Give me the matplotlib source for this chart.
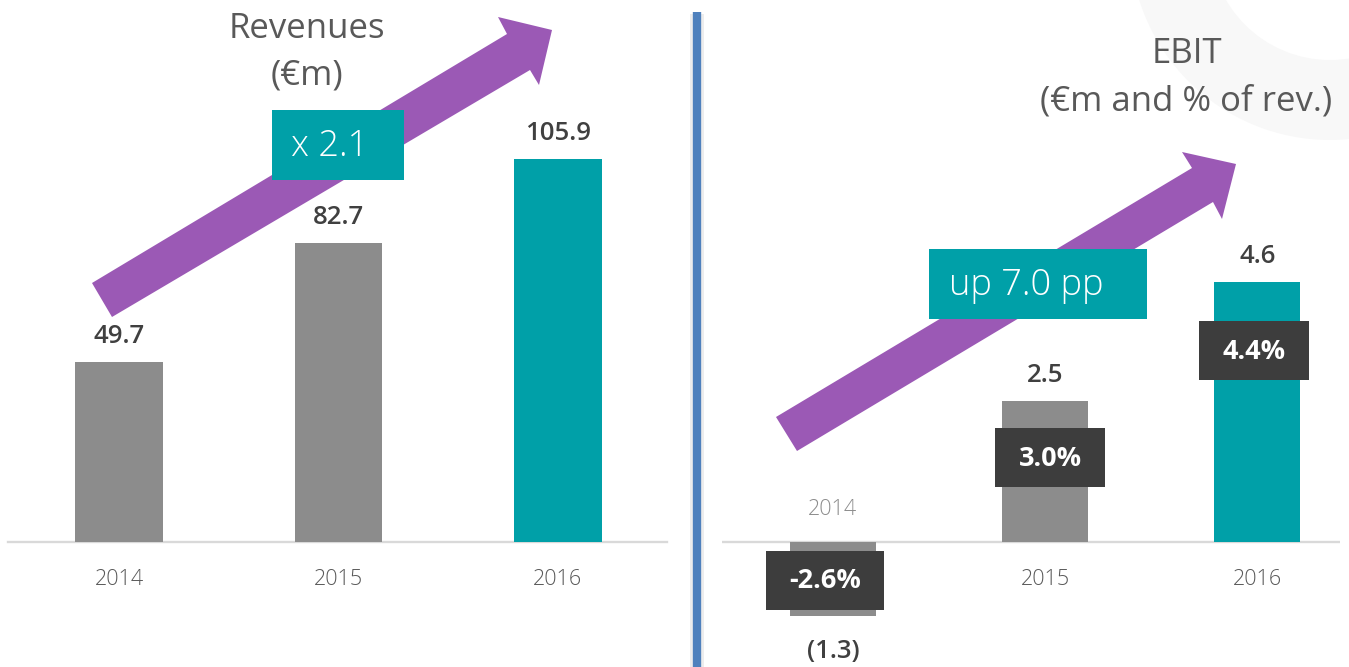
import matplotlib
matplotlib.use("Agg")
import matplotlib.pyplot as plt
from matplotlib.patches import Polygon, Rectangle, Wedge
from matplotlib import transforms
import numpy as np

# ---------------- data ----------------
years = ["2014", "2015", "2016"]
revenues = [49.7, 82.7, 105.9]
revenue_labels = ["49.7", "82.7", "105.9"]
ebit = [-1.3, 2.5, 4.6]
ebit_labels = ["(1.3)", "2.5", "4.6"]
ebit_margin = ["-2.6%", "3.0%", "4.4%"]
rev_badge = "x 2.1"
ebit_badge = "up 7.0 pp"

# ---------------- style ----------------
W, H = 1349, 667
DPI = 100
GRAY = "#8C8C8C"
TEAL = "#00A0A8"
PURPLE = "#9B59B5"
DARK = "#3D3D3D"
VAL = "#404040"
TICK = "#595959"
TITLE = "#595959"
AXLINE = "#D9D9D9"
DIVIDER = "#4F81BD"
FONT = "Open Sans"
bar_colors = [GRAY, GRAY, TEAL]

plt.rcParams["font.family"] = [FONT, "DejaVu Sans"]

fig = plt.figure(figsize=(W / DPI, H / DPI), dpi=DPI)
fig.patch.set_facecolor("white")


def px_axes(x0, x1, y_top, y_bot, z):
    """Axes located by pixel bounds (y measured from top)."""
    return fig.add_axes([x0 / W, (H - y_bot) / H, (x1 - x0) / W, (y_bot - y_top) / H], zorder=z)


# background overlay (watermark)
bg = fig.add_axes([0, 0, 1, 1], zorder=0)
bg.set_xlim(0, W)
bg.set_ylim(H, 0)
bg.axis("off")
bg.add_patch(Wedge((1330, -60), 200, 0, 180, width=80, facecolor="#F8F8F8", edgecolor="none"))

# ---------------- left: revenues ----------------
base_px = 542
rev_scale = 3.62  # px per unit
axL = px_axes(8, 667, base_px - 150 * rev_scale, base_px, 2)
axL.set_xlim(-0.506, 2.497)
axL.set_ylim(0, 150)
axL.patch.set_alpha(0)
x = np.arange(len(years))
axL.bar(x, revenues, width=0.40, color=bar_colors, zorder=2)
axL.axhline(0, color=AXLINE, lw=1.7, zorder=1, clip_on=False)
for s in axL.spines.values():
    s.set_visible(False)
axL.set_xticks([])
axL.set_yticks([])

for i, (v, lab) in enumerate(zip(revenues, revenue_labels)):
    tr = transforms.offset_copy(axL.transData, fig=fig, x=0, y=19 * 0.72, units="points")
    axL.text(i, v, lab, transform=tr, ha="center", va="baseline", fontsize=18.5,
             fontweight="semibold", color=VAL)
    tr2 = transforms.offset_copy(axL.transData, fig=fig, x=0, y=-27 * 0.72, units="points")
    axL.text(i, 0, years[i], transform=tr2, ha="center", va="top", fontsize=15.5,
             fontweight="light", color=TICK)

# ---------------- right: EBIT ----------------
ebit_scale = 56.6
axR = px_axes(722, 1340, 0, H, 2)
axR.set_xlim(-0.523, 2.389)
axR.set_ylim(-(H - base_px) / ebit_scale, base_px / ebit_scale)
axR.patch.set_alpha(0)
axR.bar(x, ebit, width=0.405, color=bar_colors, zorder=2)
axR.axhline(0, color=AXLINE, lw=1.7, zorder=1)
for s in axR.spines.values():
    s.set_visible(False)
axR.set_xticks([])
axR.set_yticks([])

for i, (v, lab) in enumerate(zip(ebit, ebit_labels)):
    if v >= 0:
        tr = transforms.offset_copy(axR.transData, fig=fig, x=0, y=19 * 0.72, units="points")
        axR.text(i, v, lab, transform=tr, ha="center", va="baseline", fontsize=18.5,
                 fontweight="semibold", color=VAL)
        tr2 = transforms.offset_copy(axR.transData, fig=fig, x=0, y=-27 * 0.72, units="points")
        axR.text(i, 0, years[i], transform=tr2, ha="center", va="top", fontsize=15.5,
                 fontweight="light", color=TICK)
    else:
        tr = transforms.offset_copy(axR.transData, fig=fig, x=0, y=-42 * 0.72, units="points")
        axR.text(i, v, lab, transform=tr, ha="center", va="baseline", fontsize=18.5,
                 fontweight="semibold", color=VAL)
        tr2 = transforms.offset_copy(axR.transData, fig=fig, x=0, y=27 * 0.72, units="points")
        axR.text(i, 0, years[i], transform=tr2, ha="center", va="baseline", fontsize=15.5,
                 fontweight="light", color="#8C8C8C")

# ---------------- foreground overlay ----------------
fg = fig.add_axes([0, 0, 1, 1], zorder=5)
fg.set_xlim(0, W)
fg.set_ylim(H, 0)
fg.axis("off")
fg.patch.set_alpha(0)

# margin boxes, positioned relative to bars
box_y = [-0.68, 1.49, 3.38]
box_dx = [-8, 5, -3]
box_w = [118, 110, 110]
box_h = 59
fig.canvas.draw()
for i, txt in enumerate(ebit_margin):
    dx, dy = axR.transData.transform((i, box_y[i]))
    cx = dx + box_dx[i]
    cy = H - dy
    fg.add_patch(Rectangle((cx - box_w[i] / 2, cy - box_h / 2), box_w[i], box_h,
                           facecolor=DARK, edgecolor="none", zorder=3))
    fg.text(cx, cy + 1, txt, ha="center", va="center", fontsize=19.5, fontweight="bold",
            color="white", zorder=4)


def arrow(tail_a, tail_b, shaft_a, shaft_b, head_a, head_b, tip):
    pts = [tail_a, shaft_a, head_a, tip, head_b, shaft_b, tail_b]
    fg.add_patch(Polygon(pts, closed=True, facecolor=PURPLE, edgecolor="none", zorder=1))


arrow((92, 283), (112, 317), (507, 34), (530, 70), (498, 17), (539, 85), (552, 30))
arrow((776, 417), (797, 451), (1192, 168), (1213, 202), (1182, 152), (1222, 219), (1236, 164))

# badges
fg.add_patch(Rectangle((272, 110), 132, 70, facecolor=TEAL, edgecolor="none", zorder=2))
fg.text(291, 146, rev_badge, ha="left", va="center", fontsize=26, color="white",
        fontweight="light", zorder=3)
fg.add_patch(Rectangle((929, 249), 218, 70, facecolor=TEAL, edgecolor="none", zorder=2))
fg.text(949, 285, ebit_badge, ha="left", va="center", fontsize=26, color="white",
        fontweight="light", zorder=3)

# titles
fg.text(307, 38, "Revenues", ha="center", va="baseline", fontsize=25, color=TITLE)
fg.text(307, 85, "(€m)", ha="center", va="baseline", fontsize=25, color=TITLE)
fg.text(1187, 63, "EBIT", ha="center", va="baseline", fontsize=25, color=TITLE)
fg.text(1186, 110, "(€m and % of rev.)", ha="center", va="baseline", fontsize=25, color=TITLE)

# divider with soft shadow
fg.plot([697, 697], [14, H], color="#EDEDED", lw=10, solid_capstyle="butt", zorder=1)
fg.plot([697, 697], [12, H], color=DIVIDER, lw=6, solid_capstyle="butt", zorder=2)

fig.savefig("out.png", dpi=DPI, facecolor="white")
